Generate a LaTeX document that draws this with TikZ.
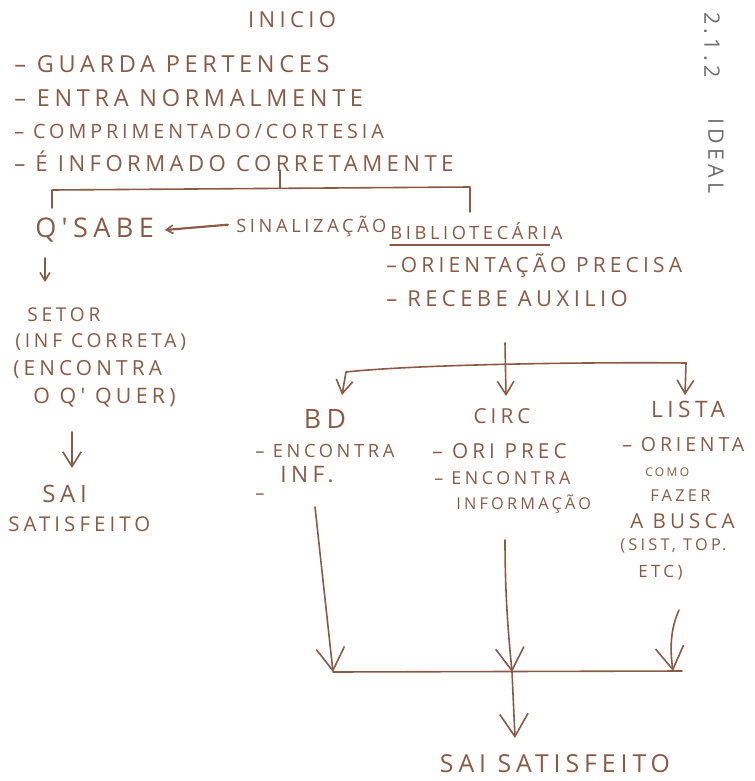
\documentclass[tikz,border=0pt]{standalone}
\usepackage{fontspec}
\newfontfamily\hand[LetterSpace=20]{Open Sans}
\usetikzlibrary{arrows.meta}
\definecolor{ink}{HTML}{8A5A44}
\definecolor{pencil}{HTML}{6E6E6E}
\newcommand\fsz[1]{\fontsize{#1}{#1}\selectfont}
\begin{document}
\begin{tikzpicture}[x=0.75pt,y=-0.75pt,
  txt/.style={anchor=west, text=ink, inner sep=0pt, font=\hand\fsz{#1}},
  txt/.default=16,
  ctxt/.style={txt=#1, anchor=center},
  ctxt/.default=16,
  note/.style={text=pencil, inner sep=0pt, font=\hand\fsz{16}, rotate=-90, anchor=west},
  ln/.style={draw=ink, line width=1.2pt, line cap=round, line join=round},
  arr/.style={ln, -{Straight Barb[length=#1,width=1.25*#1,line width=1.2pt]}},
  arr/.default=10pt,
]
\useasboundingbox[fill=white] (0,0) rectangle (755,781);

% header list
\node[ctxt=16.5] (inicio) at (292,20) {INICIO};
\node[txt=17.6] (l1) at (14,64) {– GUARDA PERTENCES};
\node[txt=17.6] (l2) at (14,98) {– ENTRA NORMALMENTE};
\node[txt=14.8] (l3) at (14,131) {– COMPRIMENTADO/CORTESIA};
\node[txt=16.6] (l4) at (14,161) {– É INFORMADO CORRETAMENTE};

\node[note] (sec) at (712,12) {2.1.2};
\node[note] (ideal) at (716,118) {IDEAL};

% split into two branches
\coordinate (jt) at (280,170);
\coordinate (jb) at (280,188);
\coordinate (jl) at (52,190);
\coordinate (jr) at (470,187);
\coordinate (jle) at (52,208);
\coordinate (jre) at (470,212);
\draw[ln] (jt) -- (jb);
\draw[ln] (jle) -- (jl) -- (jr) -- (jre);

% left branch
\node[txt=20.3] (qs) at (35,230) {Q'SABE};
\node[txt=13.7] (sin) at (236,226) {SINALIZAÇÃO};
\draw[arr=5pt, line width=1.6pt] ([xshift=-6pt,yshift=1pt]sin.west) -- ([xshift=8pt]qs.east);
\coordinate (qa1) at (45,258);
\coordinate (qa2) at (45,282);
\draw[arr=6pt] (qa1) -- (qa2);
\node[txt=14.3] (setor) at (27,315) {SETOR};
\node[txt=14.4] (inf) at (15,342) {(INF CORRETA)};
\node[txt=15.6] (enc) at (13,370) {(ENCONTRA};
\node[txt=16] (oq) at (33,398) {O Q' QUER)};
\coordinate (sa1) at (72,432);
\coordinate (sa2) at (72,468);
\draw[arr=11pt] (sa1) -- (sa2);
\node[txt=18] (sai1) at (42,494) {SAI};
\node[txt=15.3] (sat1) at (8,524) {SATISFEITO};

% right branch
\node[txt=13.7] (bib) at (390,231) {BIBLIOTECÁRIA};
\draw[ln] ([yshift=-4pt]bib.south west) -- ([yshift=-4pt,xshift=-10pt]bib.south east);
\node[txt=15.7] (ori) at (386,266) {–ORIENTAÇÃO PRECISA};
\node[txt=16.5] (rec) at (386,299) {– RECEBE AUXILIO};

\coordinate (rt) at (505,343);
\coordinate (rb) at (506,396);
\coordinate (hl) at (346,372);
\coordinate (hr) at (686,363);
\coordinate (bdt) at (342,395);
\coordinate (lit) at (685,395);
\draw[arr] (rt) -- (rb);
\draw[ln] (hl) .. controls (420,364) and (600,362) .. (hr);
\draw[arr] (hl) -- (bdt);
\draw[arr] (hr) -- (lit);

% three options
\node[ctxt=20] (bd) at (325,419) {BD};
\node[txt=13.7] (bd1) at (255,451) {– ENCONTRA};
\node[txt=17] (bd2) at (280,475) {INF.};
\node[txt=13.7] (bd3) at (255,497) {–};

\node[ctxt=15.5] (circ) at (502,416) {CIRC};
\node[txt=15.5] (c1) at (432,451) {– ORI PREC};
\node[txt=13.4] (c2) at (434,478) {– ENCONTRA};
\node[txt=12.2] (c3) at (456,504) {INFORMAÇÃO};

\node[ctxt=17] (lista) at (688,409) {LISTA};
\node[txt=14.6] (li1) at (622,445) {– ORIENTA};
\node[txt=9] (li2) at (645,472) {COMO};
\node[txt=12.3] (li3) at (650,496) {FAZER};
\node[txt=15.4] (li4) at (630,521) {A BUSCA};
\node[txt=12.2] (li5) at (620,546) {(SIST, TOP.};
\node[txt=12.7] (li6) at (638,573) {ETC)};

% merge to the end
\coordinate (m1) at (315,507);
\coordinate (m2) at (505,540);
\coordinate (m3) at (679,610);
\coordinate (b1) at (333,672);
\coordinate (b2) at (512,672);
\coordinate (b3) at (673,671);
\coordinate (be) at (682,671);
\draw[arr=17pt] (m1) -- (b1);
\draw[arr=17pt] (m2) .. controls (505,600) and (509,640) .. (b2);
\draw[arr=17pt] (m3) .. controls (670,630) and (670,650) .. (b3);
\draw[ln] (b1) -- (be);
\coordinate (fe) at (515,738);
\draw[arr=17pt] (b2) -- (fe);
\node[ctxt=18.6] (fim) at (555,764) {SAI SATISFEITO};
\end{tikzpicture}
\end{document}
